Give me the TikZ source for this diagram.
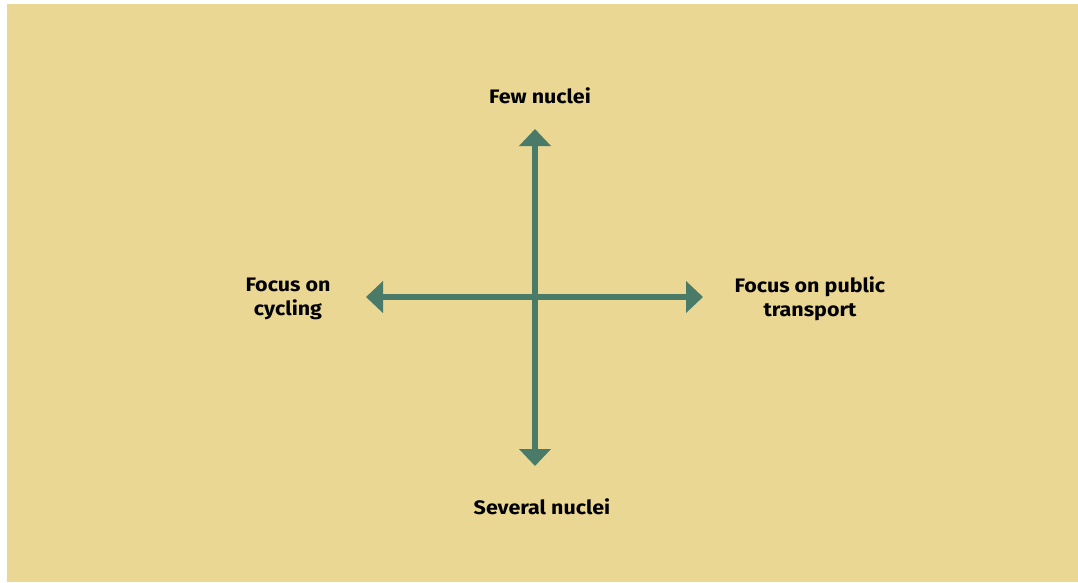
\documentclass[tikz,border=0pt]{standalone}
\usepackage{fontspec}
\setmainfont{Fira Sans}[FakeStretch=1.1]
\usetikzlibrary{arrows.meta}
\definecolor{sand}{RGB}{235,215,148}
\definecolor{axisgreen}{RGB}{74,122,104}
\tikzset{
  axis/.style={draw=axisgreen, line width=6pt,
    {Triangle[width=31pt,length=17pt]}-{Triangle[width=31pt,length=17pt]}},
  pole/.style={font=\bfseries\fontsize{19.5}{24}\selectfont, align=center, text=black, inner sep=0pt}
}
\begin{document}
\begin{tikzpicture}[x=1pt,y=-1pt]
  \useasboundingbox (0,0) rectangle (1078,582);
  \fill[white] (0,0) rectangle (1078,582);
  \fill[sand] (7,4) rectangle (1078,582);

  % axis end points
  \coordinate (top) at (535,129);
  \coordinate (bottom) at (535,466);
  \coordinate (left) at (366,297);
  \coordinate (right) at (703,297);

  \draw[axis] (bottom) -- (top);
  \draw[axis] (left) -- (right);

  % pole labels
  \node[pole] (few) at (540,95.5) {Few nuclei};
  \node[pole] (several) at (542,506.5) {Several nuclei};
  \node[pole] (cycling) at (288,298.5) {Focus on\\cycling};
  \node[pole] (transit) at (810,298.5) {Focus on public\\transport};
\end{tikzpicture}
\end{document}
